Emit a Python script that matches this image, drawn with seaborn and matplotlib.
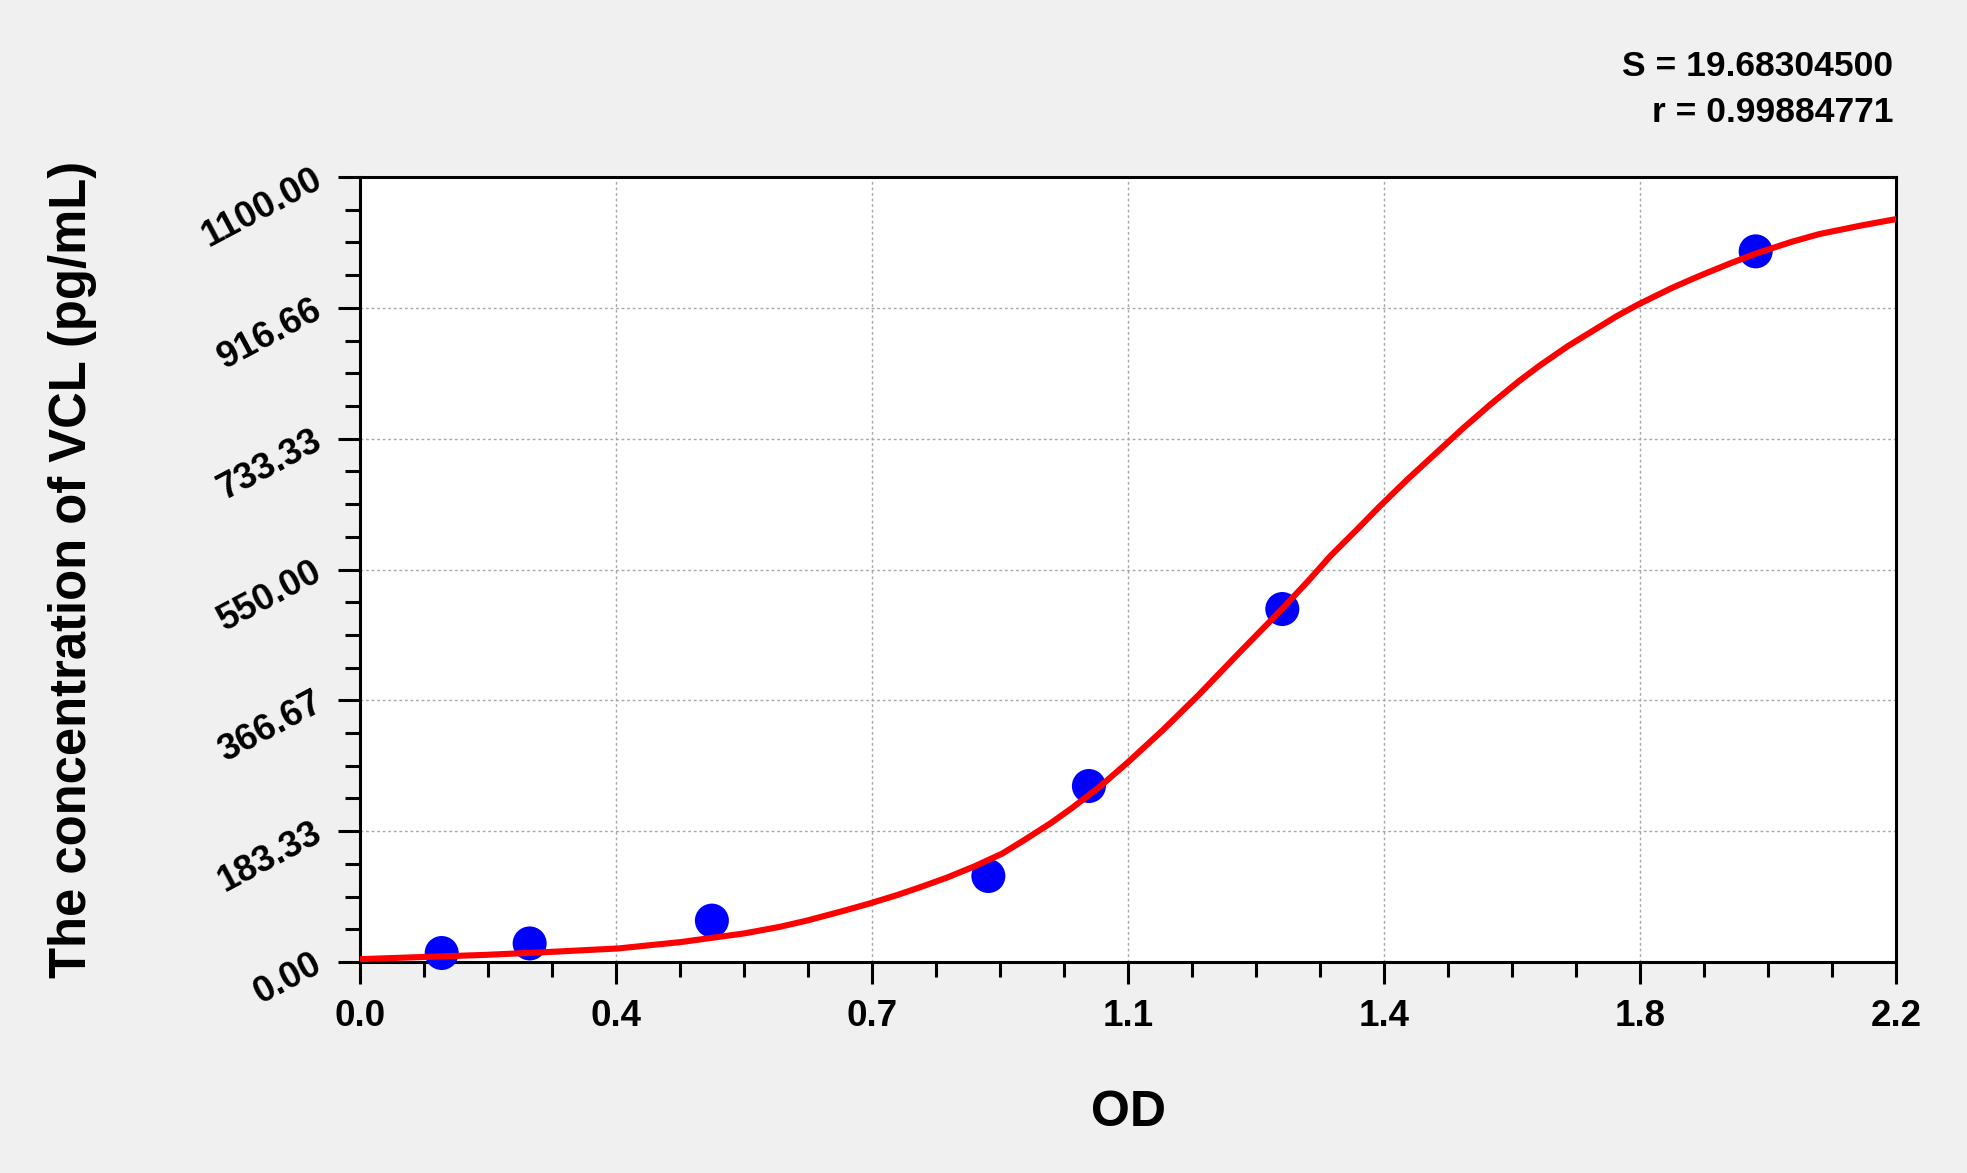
import numpy as np
import pandas as pd
import matplotlib
matplotlib.use("Agg")
import matplotlib.pyplot as plt
from matplotlib.ticker import AutoMinorLocator
import seaborn as sns

# Standard points (OD vs concentration)
std_od = [0.117, 0.243, 0.504, 0.900, 1.044, 1.321, 1.999]
std_conc = [12.6, 26.0, 58.0, 120.5, 246.6, 494.6, 995.8]

# Fitted curve
curve_od = [0.00, 0.09, 0.18, 0.27, 0.37, 0.46, 0.55, 0.60, 0.64, 0.69, 0.73,
            0.77, 0.80, 0.84, 0.88, 0.92, 0.95, 0.99, 1.02, 1.06, 1.10, 1.15,
            1.20, 1.26, 1.32, 1.36, 1.39, 1.43, 1.46, 1.50, 1.55, 1.58, 1.62,
            1.66, 1.69, 1.73, 1.76, 1.80, 1.83, 1.88, 1.92, 1.96, 2.00, 2.05,
            2.09, 2.15, 2.20]
curve_conc = [4, 7, 10, 14, 19, 28, 40, 49, 58, 71, 82,
              94, 104, 118, 134, 152, 170, 195, 216, 246, 280, 325,
              373, 434, 494, 536, 569, 608, 638, 676, 721, 748, 782,
              814, 836, 863, 881, 905, 921, 945, 962, 978, 993, 1009,
              1020, 1032, 1041]

# Axis ticks and labels
x_ticks = [0.0, 2.2 / 6, 2 * 2.2 / 6, 1.1, 4 * 2.2 / 6, 5 * 2.2 / 6, 2.2]
x_labels = ["0.0", "0.4", "0.7", "1.1", "1.4", "1.8", "2.2"]
y_ticks = [0.0, 1100 / 6, 2 * 1100 / 6, 550.0, 4 * 1100 / 6, 5 * 1100 / 6, 1100.0]
y_labels = ["0.00", "183.33", "366.67", "550.00", "733.33", "916.66", "1100.00"]

stats_lines = ["S = 19.68304500", "r = 0.99884771"]

sns.set_theme(style="white")
plt.rcParams["font.family"] = ["Liberation Sans", "DejaVu Sans"]
plt.rcParams["font.weight"] = "bold"
plt.rcParams["text.color"] = "black"
plt.rcParams["xtick.color"] = "black"
plt.rcParams["ytick.color"] = "black"

W, H = 1967, 1173
fig = plt.figure(figsize=(W / 100, H / 100), dpi=100, facecolor="#f0f0f0")
ax = fig.add_axes([360 / W, 1 - 962 / H, 1536 / W, 785 / H])
ax.set_facecolor("white")

pts = pd.DataFrame({"od": std_od, "conc": std_conc})
curve = pd.DataFrame({"od": curve_od, "conc": curve_conc})

sns.scatterplot(data=pts, x="od", y="conc", ax=ax, color="#0000ff", s=600,
                edgecolor="none", zorder=3, clip_on=False)
sns.lineplot(data=curve, x="od", y="conc", ax=ax, color="#ff0000",
             linewidth=4.4, zorder=4, sort=False)

ax.set_xlim(0, 2.2)
ax.set_ylim(0, 1100)
ax.set_xticks(x_ticks)
ax.set_xticklabels(x_labels, fontsize=26.5, fontweight="bold", color="black")
ax.set_yticks(y_ticks)
ax.set_yticklabels(y_labels, fontsize=26.5, fontweight="bold", rotation=28,
                   ha="right", va="center", rotation_mode="anchor", color="black")
ax.xaxis.set_minor_locator(AutoMinorLocator(4))
ax.yaxis.set_minor_locator(AutoMinorLocator(4))
ax.tick_params(axis="both", which="major", direction="out", length=16, width=2.2,
               color="black", bottom=True, left=True)
ax.tick_params(axis="both", which="minor", direction="out", length=11, width=2.2,
               color="black", bottom=True, left=True)
ax.tick_params(axis="x", which="major", pad=11)
ax.tick_params(axis="y", which="major", pad=13)

ax.grid(True, which="major", linestyle=(0, (2, 2)), color="#a8a8a8", linewidth=1)
for side in ["top", "right", "bottom", "left"]:
    ax.spines[side].set_visible(True)
    ax.spines[side].set_color("black")
    ax.spines[side].set_linewidth(2.2)

ax.set_xlabel("")
ax.set_ylabel("")
fig.text(1128 / W, 1 - 1113 / H, "OD", ha="center", va="center",
         fontsize=36, fontweight="bold", color="black")
fig.text(73 / W, 1 - 569 / H, "The concentration of VCL (pg/mL)", ha="center",
         va="center", rotation=90, fontsize=36.5, fontweight="bold", color="black")
fig.text(1893 / W, 1 - 66 / H, stats_lines[0], ha="right", va="center",
         fontsize=25.5, fontweight="bold", color="black")
fig.text(1893 / W, 1 - 112 / H, stats_lines[1], ha="right", va="center",
         fontsize=25.5, fontweight="bold", color="black")

fig.savefig("out.png", dpi=100, facecolor=fig.get_facecolor())
